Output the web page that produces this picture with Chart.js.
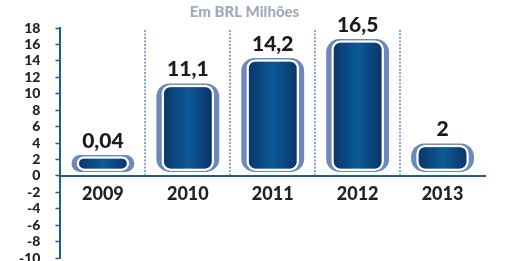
<!DOCTYPE html>
<html>
<head>
<meta charset="utf-8">
<script src="https://cdn.jsdelivr.net/npm/chart.js@4"></script>
<style>
  html, body { margin: 0; padding: 0; background: #fff; }
  #wrap { width: 512px; height: 261px; }
</style>
</head>
<body>
<div id="wrap"><canvas id="chart" width="512" height="261"></canvas></div>
<script>
// données
const years = ['2009', '2010', '2011', '2012', '2013'];
const values = [0.04, 11.1, 14.2, 16.5, 2];
const valueLabels = ['0,04', '11,1', '14,2', '16,5', '2'];
// hauteur dessinée des barres (les petites valeurs ont une hauteur minimale)
const barTops = [2.4, 11.1, 14.2, 16.5, 3.8];
const barBase = 0.6;
const yTicks = [-10, -8, -6, -4, -2, 0, 2, 4, 6, 8, 10, 12, 14, 16, 18];

const FONT = 'Lato, "Open Sans", sans-serif';
const BAR_PCT = 0.62;

// dégradé horizontal pour chaque barre
function barGradient(c) {
  const chart = c.chart;
  const xs = chart.scales && chart.scales.x;
  if (!chart.chartArea || !xs || c.type !== 'data') return '#0b4a86';
  const cx = xs.getPixelForValue(c.dataIndex);
  const w = (xs.width / years.length) * BAR_PCT;
  const g = chart.ctx.createLinearGradient(cx - w / 2, 0, cx + w / 2, 0);
  g.addColorStop(0, '#0b3266');
  g.addColorStop(0.5, '#0b5a98');
  g.addColorStop(1, '#0b3266');
  return g;
}

// lignes pointillées entre les années, au-dessus du zéro
const separators = {
  id: 'separators',
  beforeDatasetsDraw(chart) {
    const xs = chart.scales.x, ys = chart.scales.y, ctx = chart.ctx;
    ctx.save();
    ctx.strokeStyle = '#8aa4cc';
    ctx.lineWidth = 2;
    ctx.setLineDash([2, 1.5]);
    for (let i = 0; i < years.length - 1; i++) {
      const x = Math.round((xs.getPixelForValue(i) + xs.getPixelForValue(i + 1)) / 2);
      ctx.beginPath();
      ctx.moveTo(x, chart.chartArea.top + 2);
      ctx.lineTo(x, ys.getPixelForValue(0) - 1);
      ctx.stroke();
    }
    ctx.restore();
  }
};

// étiquettes de valeur au-dessus des barres
const valueText = {
  id: 'valueText',
  afterDatasetsDraw(chart) {
    const meta = chart.getDatasetMeta(1);
    const ctx = chart.ctx;
    ctx.save();
    ctx.font = '900 21px ' + FONT;
    ctx.fillStyle = '#1b1b1b';
    ctx.textAlign = 'center';
    ctx.textBaseline = 'alphabetic';
    meta.data.forEach((el, i) => {
      ctx.fillText(valueLabels[i], el.x, el.y - 7);
    });
    ctx.restore();
  }
};

new Chart(document.getElementById('chart'), {
  type: 'bar',
  data: {
    labels: years,
    datasets: [
      {
        data: barTops.map(t => [barBase, t]),
        backgroundColor: barGradient,
        borderColor: '#ffffff',
        borderWidth: 2.5,
        borderRadius: 9,
        borderSkipped: false,
        barPercentage: BAR_PCT,
        categoryPercentage: 1
      },
      {
        // ombre bleu clair derrière les barres
        data: barTops.map(t => [barBase - 0.12, t + 0.15]),
        backgroundColor: '#6d88bb',
        borderWidth: 0,
        borderRadius: 13,
        borderSkipped: false,
        barPercentage: 0.74,
        categoryPercentage: 1
      }
    ]
  },
  options: {
    responsive: false,
    animation: false,
    datasets: { bar: { grouped: false } },
    layout: { padding: { left: 4, right: 27, top: 0, bottom: 3 } },
    plugins: {
      legend: { display: false },
      tooltip: { enabled: false },
      title: {
        display: true,
        text: 'Em BRL Milhões',
        color: '#a1a9b9',
        font: { family: FONT, size: 15, weight: '900' },
        padding: { top: 3, bottom: 7 }
      }
    },
    scales: {
      x: {
        position: { y: 0 },
        grid: { display: false, drawTicks: false },
        border: { color: '#1f5f8f', width: 2 },
        ticks: {
          color: '#222222',
          font: { family: FONT, size: 18, weight: '900' },
          padding: 8
        }
      },
      y: {
        min: -10,
        max: 18,
        afterBuildTicks(scale) { scale.ticks = yTicks.map(v => ({ value: v })); },
        afterFit(scale) { scale.paddingTop = 0; scale.paddingBottom = 0; },
        grid: { drawOnChartArea: false, tickLength: 5, tickColor: '#1f5f8f', tickWidth: 1.5 },
        border: { color: '#1f5f8f', width: 2 },
        ticks: {
          autoSkip: false,
          color: '#222222',
          font: { family: FONT, size: 14, weight: '900' },
          padding: 15
        }
      }
    }
  },
  plugins: [separators, valueText]
});
</script>
</body>
</html>
